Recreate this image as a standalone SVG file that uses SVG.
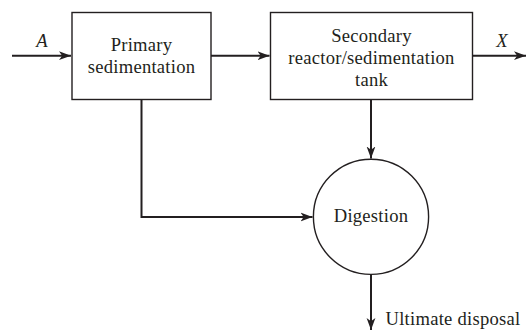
<svg xmlns="http://www.w3.org/2000/svg" width="526" height="331" viewBox="0 0 526 331">
<defs>
<marker id="ah" markerWidth="13" markerHeight="10" refX="12" refY="5" orient="auto" markerUnits="userSpaceOnUse">
<path d="M0,0.6 L12,5 L0,9.4 L3.2,5 Z" fill="#231f20"/>
</marker>
</defs>
<style>
.box{fill:#fff;stroke:#231f20;stroke-width:1.4}
.ln{fill:none;stroke:#231f20;stroke-width:2}
.t{font-family:"Liberation Serif","Times New Roman",serif;font-size:18.6px;letter-spacing:0.25px;fill:#231f20;text-anchor:middle}
.it{font-style:italic}
</style>
<rect width="526" height="331" fill="#fff"/>
<g id="connectors">
<line class="ln" x1="12" y1="55.7" x2="71" y2="55.7" marker-end="url(#ah)"/>
<line class="ln" x1="211" y1="55.7" x2="269.5" y2="55.7" marker-end="url(#ah)"/>
<line class="ln" x1="472" y1="55.7" x2="526" y2="55.7" marker-end="url(#ah)"/>
<line class="ln" x1="371" y1="99.5" x2="371" y2="158.5" marker-end="url(#ah)"/>
<polyline class="ln" points="141.5,99.5 141.5,217 312.5,217" marker-end="url(#ah)"/>
<line class="ln" x1="371" y1="274.5" x2="371" y2="330" marker-end="url(#ah)"/>
<text class="t it" x="42" y="47">A</text>
<text class="t it" x="502" y="47">X</text>
<text class="t" x="385.5" y="325" style="text-anchor:start">Ultimate disposal</text>
</g>
<g id="primary">
<rect class="box" x="72" y="12.5" width="139" height="87"/>
<text class="t" x="141.5" y="50.5">Primary</text>
<text class="t" x="141.5" y="72.5">sedimentation</text>
</g>
<g id="secondary">
<rect class="box" x="270.5" y="12.5" width="202" height="87"/>
<text class="t" x="371.5" y="41.5">Secondary</text>
<text class="t" x="371.5" y="63.5">reactor/sedimentation</text>
<text class="t" x="371.5" y="85.5">tank</text>
</g>
<g id="digestion">
<circle class="box" cx="371" cy="216.8" r="57.6"/>
<text class="t" x="371" y="222">Digestion</text>
</g>
</svg>
